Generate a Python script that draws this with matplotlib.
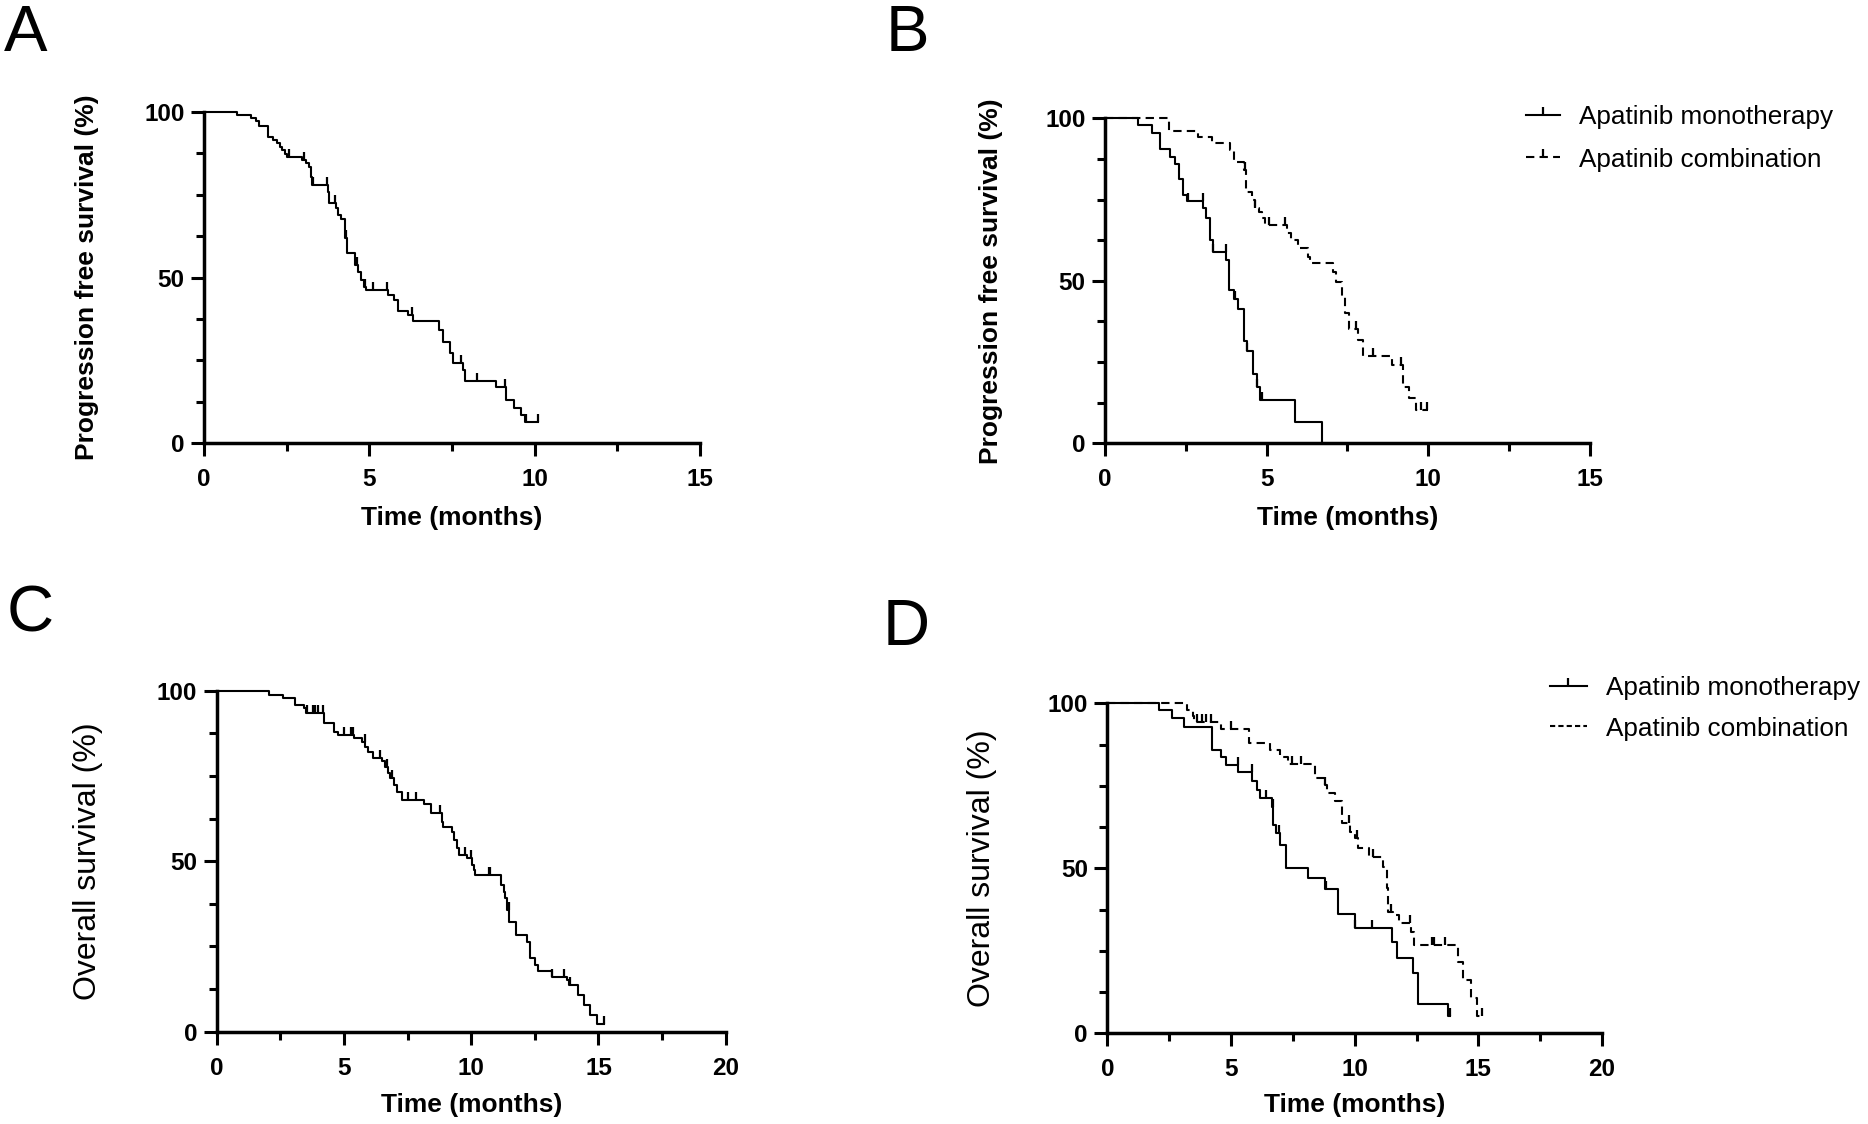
import numpy as np
import matplotlib
matplotlib.use('Agg')
import matplotlib.pyplot as plt
from matplotlib.lines import Line2D
from matplotlib.ticker import MultipleLocator

plt.rcParams['font.family'] = ['Liberation Sans', 'DejaVu Sans']

# ---- panel A: progression free survival, all patients ----
a_times = [0.99, 1.43, 1.57, 1.67, 1.94, 2.10, 2.20, 2.30, 2.37, 2.44, 2.51, 2.95, 3.08, 3.18,
           3.23, 3.28, 3.74, 3.79, 3.99, 4.04, 4.14, 4.26, 4.32, 4.57, 4.65, 4.75, 4.85, 4.90,
           5.56, 5.74, 5.88, 6.16, 6.31, 7.12, 7.22, 7.45, 7.53, 7.83, 7.90, 8.82, 9.14, 9.39,
           9.60, 9.70]
a_surv = [98.9, 98.0, 97.2, 95.8, 92.5, 91.5, 90.5, 89.4, 88.4, 87.2, 86.4, 85.4, 84.4, 83.2,
          80.4, 77.9, 75.9, 72.4, 70.9, 68.8, 67.6, 61.8, 57.3, 53.8, 51.8, 49.2, 47.2, 46.2,
          44.7, 43.2, 39.9, 38.7, 36.9, 34.2, 30.5, 27.1, 24.1, 22.1, 18.8, 16.9, 13.1, 10.6,
          8.5, 6.3]
a_end = 10.1
a_censor = [2.56, 3.01, 3.31, 3.71, 3.97, 4.29, 4.62, 4.86, 5.10, 5.53, 6.28, 7.76, 8.26,
            9.09, 9.75, 10.1]

# ---- panel B: progression free survival by group ----
b_mono_times = [1.03, 1.47, 1.70, 2.01, 2.16, 2.30, 2.42, 2.53, 3.04, 3.14, 3.25, 3.33, 3.76,
                3.85, 3.99, 4.12, 4.30, 4.38, 4.59, 4.69, 4.79, 5.88, 6.73]
b_mono_surv = [97.9, 95.4, 90.6, 88.2, 85.9, 81.3, 76.4, 74.6, 72.3, 69.2, 62.6, 59.0, 56.4,
               47.2, 44.3, 41.2, 31.6, 28.5, 21.3, 17.4, 13.3, 6.7, 0.0]
b_mono_end = 6.73
b_mono_censor = [2.58, 3.02, 3.35, 3.74, 4.02, 4.40, 4.70, 4.85]

b_comb_times = [1.98, 2.89, 3.30, 3.87, 4.00, 4.30, 4.36, 4.54, 4.64, 4.77, 4.87, 4.95, 5.62,
                5.77, 5.98, 6.29, 6.34, 7.04, 7.16, 7.32, 7.44, 7.56, 7.84, 7.97, 8.87, 9.23,
                9.41, 9.62]
b_comb_surv = [96.2, 94.4, 92.3, 90.3, 86.7, 84.1, 77.4, 74.9, 72.3, 71.3, 69.2, 67.2, 64.6,
               62.6, 60.0, 57.4, 55.4, 52.8, 49.7, 45.1, 40.0, 35.1, 31.8, 26.9, 24.1, 17.4,
               13.8, 10.3]
b_comb_end = 10.0
b_comb_censor = [4.33, 4.65, 5.08, 5.57, 7.78, 8.30, 9.15, 9.79, 9.97]

# ---- panel C: overall survival, all patients ----
c_times = [2.07, 2.60, 3.08, 3.43, 3.51, 4.23, 4.59, 4.76, 5.40, 5.70, 5.83, 5.96, 6.16, 6.49,
           6.62, 6.72, 6.81, 6.95, 7.08, 7.27, 8.16, 8.43, 8.85, 8.91, 9.24, 9.34, 9.44, 9.53,
           9.83, 10.03, 10.10, 10.16, 11.18, 11.27, 11.34, 11.40, 11.49, 11.76, 12.19, 12.32,
           12.52, 12.61, 13.17, 13.76, 13.85, 14.18, 14.44, 14.68, 14.94]
c_surv = [98.7, 97.8, 95.8, 94.8, 93.6, 90.4, 88.0, 87.0, 86.0, 85.0, 83.6, 82.1, 80.4, 79.4,
          77.7, 75.8, 74.3, 72.3, 70.4, 67.9, 66.7, 64.0, 61.6, 60.1, 58.7, 56.2, 53.8, 51.8,
          50.8, 48.9, 47.4, 45.9, 43.0, 41.1, 39.1, 35.7, 32.3, 28.5, 26.4, 21.5, 19.5, 17.8,
          16.1, 15.2, 13.7, 10.8, 7.8, 4.9, 2.4]
c_end = 15.2
c_censor = [3.56, 3.77, 3.87, 4.00, 4.19, 5.02, 5.27, 5.35, 5.81, 6.42, 6.68, 6.88, 7.50, 7.82,
            8.78, 9.76, 9.99, 10.68, 10.75, 11.47, 13.19, 13.66, 13.87, 15.2]

# ---- panel D: overall survival by group ----
d_mono_times = [2.09, 2.63, 3.11, 4.25, 4.60, 4.78, 5.30, 5.86, 6.06, 6.17, 6.64, 6.71, 6.82,
                6.98, 7.22, 8.13, 8.80, 9.34, 10.01, 11.50, 11.70, 12.37, 12.57, 13.79]
d_mono_surv = [98.0, 95.5, 92.9, 85.9, 83.8, 81.3, 79.1, 76.3, 73.7, 71.2, 68.7, 63.1, 60.6,
               57.1, 50.2, 47.0, 43.7, 36.1, 32.0, 27.6, 22.7, 18.2, 8.8, 5.1]
d_mono_end = 13.87
d_mono_censor = [5.27, 5.84, 6.40, 6.68, 6.95, 8.83, 10.03, 10.69, 13.85]

d_comb_times = [3.21, 3.48, 3.52, 4.60, 5.73, 6.58, 6.98, 7.29, 8.40, 8.80, 8.89, 9.20, 9.47,
                9.81, 10.01, 10.15, 10.58, 11.16, 11.30, 11.36, 11.56, 11.79, 12.28, 12.41,
                14.16, 14.39, 14.70, 14.93]
d_comb_surv = [98.0, 96.0, 94.2, 92.2, 88.1, 85.9, 83.8, 81.6, 77.3, 75.3, 72.7, 70.4, 63.6,
               61.1, 59.3, 56.1, 53.3, 50.5, 44.0, 36.9, 35.9, 33.3, 30.8, 26.8, 21.7, 16.2,
               10.6, 5.1]
d_comb_end = 15.15
d_comb_censor = [3.61, 3.81, 3.99, 4.18, 5.00, 7.45, 7.82, 8.82, 9.77, 10.08, 10.75, 11.47,
                 12.24, 13.14, 13.22, 13.65, 15.13]

group_labels = ['Apatinib monotherapy', 'Apatinib combination']
pfs_label = 'Progression free survival (%)'
os_label = 'Overall survival (%)'
time_label = 'Time (months)'

DASH = (0, (4, 2.5))
LW = 1.5


def draw_km(ax, times, surv, t_end, censor, ls='-'):
    times = np.asarray(times)
    surv = np.asarray(surv)
    x = np.r_[0, times, t_end]
    y = np.r_[100, surv, surv[-1]]
    ax.step(x, y, where='post', color='k', lw=LW, ls=ls, clip_on=False)
    # censor ticks sit on the curve level at that time
    idx = np.searchsorted(times, censor, side='right')
    cy = np.r_[100, surv][idx]
    ax.plot(censor, cy, ls='none', marker=2, ms=5.5, mew=1.6, color='k', clip_on=False)


def style_axes(ax, xmax, ylabel, ybold, ysize, ylab_x, xlab_y):
    ax.set_xlim(0, xmax)
    ax.set_ylim(0, 100)
    for s in ['top', 'right']:
        ax.spines[s].set_visible(False)
    for s in ['left', 'bottom']:
        ax.spines[s].set_linewidth(2.5)
    ax.xaxis.set_major_locator(MultipleLocator(5))
    ax.xaxis.set_minor_locator(MultipleLocator(2.5))
    ax.yaxis.set_major_locator(MultipleLocator(50))
    ax.yaxis.set_minor_locator(MultipleLocator(12.5))
    ax.tick_params(which='major', length=9.5, width=2.2, labelsize=17.5)
    ax.tick_params(which='minor', length=5.8, width=2.2)
    ax.tick_params(axis='x', which='major', pad=8.5)
    ax.tick_params(axis='y', which='major', pad=4.5)
    for lbl in ax.get_xticklabels() + ax.get_yticklabels():
        lbl.set_fontweight('bold')
    ax.set_ylabel(ylabel, fontsize=ysize, fontweight='bold' if ybold else 'normal', va='center')
    ax.yaxis.set_label_coords(ylab_x, 0.5)
    ax.set_xlabel(time_label, fontsize=19, fontweight='bold', va='center')
    ax.xaxis.set_label_coords(0.5, xlab_y)


fig = plt.figure(figsize=(18.68, 11.24), dpi=100)

axA = fig.add_axes([0.1092, 0.6056, 0.2655, 0.2950])
axB = fig.add_axes([0.5915, 0.6056, 0.2596, 0.2891])
axC = fig.add_axes([0.1160, 0.0821, 0.2725, 0.3034])
axD = fig.add_axes([0.5928, 0.0807, 0.2648, 0.2936])

draw_km(axA, a_times, a_surv, a_end, a_censor)
style_axes(axA, 15, pfs_label, True, 19, -0.236, -0.225)

draw_km(axB, b_mono_times, b_mono_surv, b_mono_end, b_mono_censor)
draw_km(axB, b_comb_times, b_comb_surv, b_comb_end, b_comb_censor, ls=DASH)
style_axes(axB, 15, pfs_label, True, 19, -0.235, -0.230)

draw_km(axC, c_times, c_surv, c_end, c_censor)
style_axes(axC, 20, os_label, False, 23, -0.253, -0.215)

draw_km(axD, d_mono_times, d_mono_surv, d_mono_end, d_mono_censor)
draw_km(axD, d_comb_times, d_comb_surv, d_comb_end, d_comb_censor, ls=DASH)
style_axes(axD, 20, os_label, False, 23, -0.253, -0.217)

# legends (Prism style, no frame)
hB = [Line2D([], [], color='k', lw=LW, marker=2, ms=5.5, mew=1.6),
      Line2D([], [], color='k', lw=LW, ls=DASH, marker=2, ms=5.5, mew=1.6)]
axB.legend(hB, group_labels, loc='center left', bbox_to_anchor=(0.8169, 0.8769),
           bbox_transform=fig.transFigure, frameon=False, fontsize=18.8, numpoints=1,
           handlelength=1.3, handletextpad=0.75, labelspacing=0.7, borderpad=0,
           borderaxespad=0)

hD = [Line2D([], [], color='k', lw=LW, marker=2, ms=5.5, mew=1.6),
      Line2D([], [], color='k', lw=LW, ls=(0, (2.5, 1.5)))]
axD.legend(hD, group_labels, loc='center left', bbox_to_anchor=(0.8298, 0.3697),
           bbox_transform=fig.transFigure, frameon=False, fontsize=18.8, numpoints=1,
           handlelength=1.4, handletextpad=0.75, labelspacing=0.62, borderpad=0,
           borderaxespad=0)

# panel letters
for letter, x, y in [('A', 4, 4), ('B', 886, 4), ('C', 7, 584), ('D', 883, 598)]:
    fig.text(x / 1868, 1 - y / 1124, letter, fontsize=47, ha='left', va='top')

fig.savefig('out.png', dpi=100)
